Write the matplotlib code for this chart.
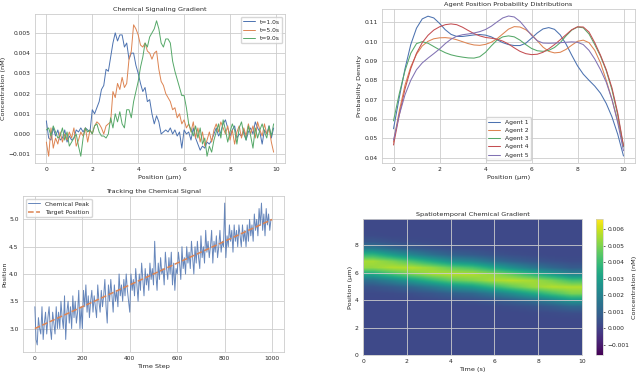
import numpy as np
import matplotlib
matplotlib.use("Agg")
import matplotlib.pyplot as plt
import seaborn as sns

# ---- panel 1: concentration profiles (position 0..9.9 um, step 0.1)
positions = np.arange(100) / 10.0
conc_t1 = [0.00065, -0.0002, -0.0003, 0.0003, -0.0001, 0.0002, -0.0003, -0.0002, 0.0002, -0.0004,
           -0.0001, -0.0003, -0.0002, 0.0002, 0.0001, 0.0003, 0.0001, 0.0003, 0.0002, 0.0001,
           0.0012, 0.0010, 0.0013, 0.0016, 0.0022, 0.0024, 0.0032, 0.0031, 0.0038, 0.0045,
           0.0050, 0.0046, 0.0049, 0.0049, 0.0043, 0.0045, 0.0037, 0.0040, 0.0040, 0.0034,
           0.0030, 0.0025, 0.0021, 0.0023, 0.0016, 0.0017, 0.0010, 0.0005, 0.0009, 0.0006,
           0.0000, 0.0001, 0.0002, 0.0001, 0.0003, 0.0000, 0.0002, -0.0001, 0.0001, -0.0007,
           0.0002, 0.0000, 0.0001, -0.0003, 0.0003, -0.0002, -0.0005, -0.0008, -0.0006, -0.0007,
           -0.0004, -0.0005, -0.0003, 0.0000, 0.0003, -0.0001, 0.0001, 0.0005, 0.0007, 0.0003,
           -0.0001, 0.0002, 0.0004, -0.0002, 0.0000, -0.0001, 0.0002, -0.0003, 0.0001, 0.0003,
           0.0000, 0.0006, 0.0003, 0.0001, -0.0005, 0.0002, 0.0000, 0.0004, -0.0002, 0.0003]
conc_t5 = [-0.0004, -0.0011, 0.0003, -0.0007, -0.0002, -0.0005, 0.0001, -0.0004, 0.0000, -0.0003,
           0.0001, -0.0002, 0.0003, -0.0006, -0.0003, 0.0001, -0.0001, 0.0003, -0.0004, 0.0002,
           0.0000, 0.0004, 0.0006, 0.0005, 0.0003, 0.0000, 0.0004, 0.0005, 0.0006, 0.0021,
           0.0018, 0.0025, 0.0022, 0.0028, 0.0023, 0.0025, 0.0037, 0.0041, 0.0054, 0.0052,
           0.0049, 0.0044, 0.0043, 0.0045, 0.0041, 0.0040, 0.0037, 0.0040, 0.0041, 0.0032,
           0.0026, 0.0024, 0.0020, 0.0018, 0.0016, 0.0012, 0.0013, 0.0008, 0.0010, 0.0005,
           0.0007, 0.0003, 0.0005, 0.0001, 0.0006, -0.0002, 0.0003, -0.0004, 0.0001, -0.0006,
           -0.0003, 0.0001, -0.0004, 0.0002, 0.0005, 0.0001, 0.0006, 0.0003, 0.0000, 0.0004,
           -0.0003, 0.0002, -0.0005, 0.0001, 0.0004, -0.0002, 0.0003, -0.0001, 0.0005, 0.0000,
           0.0004, -0.0002, 0.0006, 0.0002, -0.0001, 0.0005, 0.0000, 0.0003, -0.0004, -0.0009]
conc_t9 = [0.0002, 0.0003, -0.0001, 0.0004, 0.0001, -0.0002, -0.0001, 0.0003, -0.0003, 0.0001,
           -0.0006, -0.0004, -0.0002, 0.0000, -0.0006, -0.0011, -0.0002, 0.0003, 0.0001, 0.0002,
           0.0000, 0.0004, 0.0005, 0.0001, -0.0001, -0.0001, -0.0002, 0.0000, 0.0008, 0.0003,
           0.0010, 0.0006, 0.0011, 0.0005, 0.0003, 0.0012, 0.0012, 0.0008, 0.0016, 0.0021,
           0.0026, 0.0033, 0.0038, 0.0045, 0.0043, 0.0048, 0.0050, 0.0052, 0.0056, 0.0052,
           0.0045, 0.0043, 0.0047, 0.0047, 0.0045, 0.0036, 0.0031, 0.0027, 0.0023, 0.0019,
           0.0019, 0.0013, 0.0005, 0.0002, -0.0001, 0.0004, -0.0002, 0.0003, -0.0005, -0.0002,
           -0.0011, -0.0006, -0.0009, -0.0003, 0.0001, 0.0005, -0.0002, 0.0007, 0.0002, -0.0004,
           0.0001, 0.0005, 0.0002, -0.0005, 0.0003, 0.0006, 0.0000, -0.0003, 0.0004, -0.0001,
           -0.0007, 0.0003, -0.0002, 0.0002, 0.0005, 0.0001, -0.0002, 0.0004, -0.0001, 0.0005]
profile_labels = ["t=1.0s", "t=5.0s", "t=9.0s"]

# ---- panel 2: agent densities (step 0.25 um)
kde_x = np.arange(41) * 0.25
agent1 = [0.0549, 0.0710, 0.0860, 0.0985, 0.1070, 0.1118, 0.1132, 0.1123, 0.1095, 0.1062, 0.1038,
          0.1027, 0.1027, 0.1031, 0.1035, 0.1037, 0.1034, 0.1025, 0.1010, 0.0995, 0.0985, 0.0980,
          0.0980, 0.0992, 0.1018, 0.1045, 0.1066, 0.1073, 0.1064, 0.1035, 0.0988, 0.0930, 0.0875,
          0.0832, 0.0800, 0.0770, 0.0733, 0.0680, 0.0610, 0.0520, 0.0408]
agent2 = [0.0480, 0.0640, 0.0775, 0.0870, 0.0935, 0.0978, 0.1002, 0.1015, 0.1020, 0.1021, 0.1018,
          0.1010, 0.1000, 0.0990, 0.0983, 0.0981, 0.0986, 0.0997, 0.1015, 0.1040, 0.1065, 0.1078,
          0.1076, 0.1062, 0.1038, 0.1005, 0.0972, 0.0950, 0.0942, 0.0945, 0.0960, 0.0982, 0.1002,
          0.1008, 0.0995, 0.0955, 0.0890, 0.0800, 0.0700, 0.0590, 0.0460]
agent3 = [0.0590, 0.0730, 0.0850, 0.0940, 0.0990, 0.1000, 0.0992, 0.0975, 0.0958, 0.0943, 0.0932,
          0.0925, 0.0920, 0.0916, 0.0915, 0.0922, 0.0945, 0.0978, 0.1008, 0.1025, 0.1030, 0.1025,
          0.1008, 0.0985, 0.0965, 0.0953, 0.0950, 0.0955, 0.0970, 0.0995, 0.1030, 0.1060, 0.1076,
          0.1072, 0.1040, 0.0985, 0.0925, 0.0850, 0.0750, 0.0620, 0.0455]
agent4 = [0.0465, 0.0620, 0.0755, 0.0860, 0.0940, 0.0995, 0.1033, 0.1060, 0.1077, 0.1088, 0.1092,
          0.1088, 0.1075, 0.1058, 0.1042, 0.1030, 0.1022, 0.1018, 0.1013, 0.1003, 0.0988, 0.0968,
          0.0950, 0.0938, 0.0933, 0.0935, 0.0945, 0.0963, 0.0985, 0.1010, 0.1036, 0.1062, 0.1077,
          0.1076, 0.1050, 0.0995, 0.0930, 0.0855, 0.0760, 0.0630, 0.0460]
agent5 = [0.0490, 0.0620, 0.0725, 0.0800, 0.0855, 0.0890, 0.0915, 0.0938, 0.0962, 0.0990, 0.1013,
          0.1028, 0.1036, 0.1040, 0.1045, 0.1052, 0.1063, 0.1080, 0.1102, 0.1123, 0.1133, 0.1128,
          0.1105, 0.1070, 0.1033, 0.1005, 0.0993, 0.0992, 0.0993, 0.0995, 0.0997, 0.0999, 0.0997,
          0.0985, 0.0955, 0.0910, 0.0855, 0.0790, 0.0700, 0.0580, 0.0435]
agent_labels = ["Agent 1", "Agent 2", "Agent 3", "Agent 4", "Agent 5"]

# ---- panel 3: tracked peak (every 5th time step)
steps = np.arange(200) * 5
peak_pos = [3.4, 2.8, 2.7, 3.2, 3.0, 2.9, 3.4, 2.8, 3.1, 3.3, 2.9, 3.2, 3.4, 3.0, 2.8, 3.3, 3.1, 2.9, 3.4, 3.0,
            3.3, 3.0, 3.5, 3.2, 3.0, 3.6, 2.8, 3.3, 3.5, 3.1, 3.4, 3.0, 3.6, 3.2, 3.5, 3.1, 3.3, 3.7, 3.0, 3.4,
            3.0, 3.7, 3.4, 3.8, 3.3, 3.6, 3.2, 3.5, 3.7, 3.3, 3.6, 3.4, 3.2, 3.8, 3.5, 3.3, 3.7, 3.4, 3.6, 3.9,
            3.4, 3.1, 3.8, 3.5, 3.9, 3.6, 3.3, 3.8, 3.5, 3.7, 3.4, 4.0, 3.6, 3.8, 3.5, 3.9, 3.6, 4.0, 3.7, 3.5,
            3.3, 4.0, 3.7, 3.9, 3.6, 4.1, 3.8, 3.5, 4.0, 3.7, 4.2, 3.9, 3.6, 4.1, 3.8, 4.0, 3.7, 4.2, 3.9, 4.1,
            3.8, 4.6, 4.0, 3.7, 4.2, 3.9, 4.3, 4.0, 4.1, 3.8, 4.4, 4.1, 3.9, 4.3, 4.0, 4.4, 3.8, 4.2, 3.7, 4.1,
            4.0, 4.4, 4.2, 3.9, 4.5, 4.1, 4.3, 4.0, 4.5, 4.2, 4.4, 4.1, 4.6, 4.3, 4.0, 4.5, 4.2, 4.6, 4.3, 4.1,
            4.7, 4.3, 4.5, 4.2, 4.8, 4.4, 4.6, 4.3, 4.5, 4.8, 4.2, 4.6, 4.4, 4.7, 4.3, 4.5, 4.8, 4.4, 4.6, 4.5,
            5.3, 4.3, 4.7, 4.5, 4.9, 4.6, 4.8, 4.4, 4.9, 4.6, 4.8, 4.5, 4.9, 4.7, 4.5, 4.9, 4.6, 4.8, 4.5, 4.9,
            4.6, 5.0, 4.7, 4.9, 4.6, 5.1, 4.8, 5.0, 4.7, 5.2, 4.9, 5.3, 4.8, 5.1, 4.7, 5.2, 4.9, 5.1, 4.8, 5.0]
target_steps = [0, 1000]
target_pos = [3.0, 5.0]

# ---- panel 4: concentration map, rows = position 0..10 (0.5 um), cols = time 0..10 s
map_rows = [
    [0.0002] * 11,
    [0.0002] * 11,
    [0.0002] * 11,
    [0.0002] * 11,
    [0.0002] * 11,
    [0.0002] * 11,
    [0.0002, 0.0002, 0.0002, 0.0002, 0.0002, 0.0002, 0.0002, 0.0002, 0.00025, 0.0003, 0.0004],
    [0.0002, 0.0002, 0.0002, 0.0002, 0.0002, 0.0002, 0.00027, 0.00036, 0.0005, 0.00076, 0.00116],
    [0.0002, 0.0002, 0.0002, 0.00027, 0.00036, 0.00042, 0.00062, 0.00094, 0.00142, 0.00208, 0.00288],
    [0.00025, 0.0003, 0.00042, 0.00062, 0.00094, 0.00116, 0.00173, 0.00246, 0.00331, 0.00419, 0.00497],
    [0.00051, 0.00076, 0.00116, 0.00173, 0.00246, 0.00288, 0.00376, 0.0046, 0.00528, 0.00565, 0.00565],
    [0.00142, 0.00208, 0.00288, 0.00376, 0.0046, 0.00497, 0.00551, 0.0057, 0.00551, 0.00497, 0.00419],
    [0.00331, 0.00419, 0.00497, 0.00551, 0.0057, 0.00565, 0.00528, 0.0046, 0.00376, 0.00288, 0.00208],
    [0.00528, 0.00565, 0.00565, 0.00528, 0.0046, 0.00419, 0.00331, 0.00246, 0.00173, 0.00116, 0.00076],
    [0.00551, 0.00497, 0.00419, 0.00331, 0.00246, 0.00208, 0.00142, 0.00094, 0.00062, 0.00042, 0.0003],
    [0.00376, 0.00288, 0.00208, 0.00142, 0.00094, 0.00076, 0.00051, 0.00036, 0.00027, 0.0002, 0.0002],
    [0.00173, 0.00116, 0.00076, 0.00051, 0.00036, 0.0003, 0.00025, 0.0002, 0.0002, 0.0002, 0.0002],
    [0.00062, 0.00042, 0.0003, 0.00025, 0.0002, 0.0002, 0.0002, 0.0002, 0.0002, 0.0002, 0.0002],
    [0.00027, 0.0002, 0.0002, 0.0002, 0.0002, 0.0002, 0.0002, 0.0002, 0.0002, 0.0002, 0.0002],
    [0.0002] * 11,
    [0.0002] * 11,
]
map_vmin, map_vmax = -0.0016, 0.0066

sns.set_theme(style="whitegrid", font_scale=0.39)
plt.rcParams.update({
    "lines.linewidth": 0.75,
    "grid.linewidth": 0.6,
    "axes.linewidth": 0.6,
    "axes.labelpad": 1.5,
    "axes.titlepad": 2.5,
    "xtick.major.size": 1.5,
    "ytick.major.size": 1.5,
    "xtick.major.pad": 1.7,
    "ytick.major.pad": 1.7,
    "ytick.major.width": 0.5,
    "legend.handlelength": 2.0,
})

fig = plt.figure(figsize=(6.4, 3.72), dpi=100)
W, H = 640.0, 372.0

def box(l, t, r, b):
    return [l / W, 1 - b / H, (r - l) / W, (b - t) / H]

# panel 1
ax1 = fig.add_axes(box(35, 14, 285, 163))
for vals, lab in zip([conc_t1, conc_t5, conc_t9], profile_labels):
    ax1.plot(positions, vals, label=lab, lw=0.7)
ax1.set_title("Chemical Signaling Gradient")
ax1.set_xlabel("Position (µm)")
ax1.set_ylabel("Concentration (nM)")
ax1.legend(loc="upper right")

# panel 2
ax2 = fig.add_axes(box(382, 9, 635, 163))
for vals, lab in zip([agent1, agent2, agent3, agent4, agent5], agent_labels):
    ax2.plot(kde_x, vals, label=lab, lw=0.75)
ax2.set_title("Agent Position Probability Distributions")
ax2.set_xlabel("Position (µm)")
ax2.set_ylabel("Probability Density")
ax2.legend(loc="lower center")

# panel 3
ax3 = fig.add_axes(box(23, 196, 284, 352))
ax3.plot(steps, peak_pos, label="Chemical Peak", lw=0.7, alpha=0.85)
ax3.plot(target_steps, target_pos, "--", label="Target Position", lw=1.1)
ax3.set_xlim(-50, 1050)
ax3.set_title("Tracking the Chemical Signal")
ax3.set_xlabel("Time Step")
ax3.set_ylabel("Position")
ax3.legend(loc="upper left")

# panel 4
ax4 = fig.add_axes(box(363, 219, 582, 355))
im = ax4.imshow(np.array(map_rows), origin="lower", aspect="auto", cmap="viridis",
                extent=[0, 10, 0, 9.9], vmin=map_vmin, vmax=map_vmax, interpolation="bilinear")
ax4.set_title("Spatiotemporal Chemical Gradient")
ax4.set_xlabel("Time (s)")
ax4.set_ylabel("Position (µm)")
cax = fig.add_axes(box(596, 219, 603, 355))
cb = fig.colorbar(im, cax=cax)
cb.set_label("Concentration (nM)")
cb.outline.set_linewidth(0.5)

fig.savefig("out.png", dpi=100)
